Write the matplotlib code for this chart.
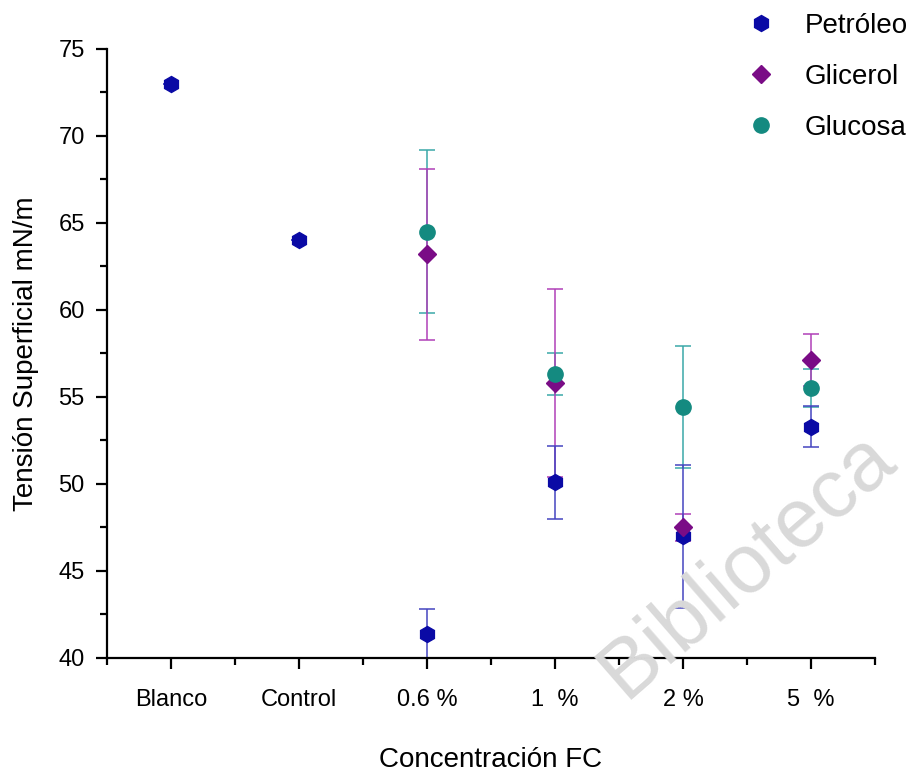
import numpy as np
import matplotlib
matplotlib.use("Agg")
from matplotlib import pyplot as plt
from matplotlib.ticker import MultipleLocator

plt.rcParams['font.family'] = ['Liberation Sans', 'DejaVu Sans']

# data
categorias = ['Blanco', 'Control', '0.6 %', '1  %', '2 %', '5  %']

petroleo_x = [0, 1, 2, 3, 4, 5]
petroleo_y = [73.0, 64.0, 41.4, 50.1, 47.0, 53.3]
petroleo_err = [0, 0, 1.4, 2.1, 4.1, 1.2]

glicerol_x = [2, 3, 4, 5]
glicerol_y = [63.2, 55.8, 47.5, 57.1]
glicerol_err = [4.9, 5.4, 0.8, 1.5]

glucosa_x = [2, 3, 4, 5]
glucosa_y = [64.5, 56.3, 54.4, 55.5]
glucosa_err = [4.7, 1.2, 3.5, 1.1]

fig = plt.figure(figsize=(9.2, 7.71), dpi=100)
ax = fig.add_axes([0.1163, 0.1466, 0.8347, 0.79])

# watermark (behind everything)
fig.text(0.635, 0.075, 'Biblioteca', fontsize=60, color='#d9d9d9', rotation=41,
         ha='left', va='bottom', zorder=0)

# error bars first (lighter), then markers
ax.errorbar(glucosa_x, glucosa_y, yerr=glucosa_err, fmt='none', ecolor='#3aa8a8',
            elinewidth=1.1, capsize=6, capthick=1.1, zorder=2)
ax.errorbar(glicerol_x, glicerol_y, yerr=glicerol_err, fmt='none', ecolor='#b040b8',
            elinewidth=1.1, capsize=6, capthick=1.1, zorder=2)
ax.errorbar(petroleo_x, petroleo_y, yerr=petroleo_err, fmt='none', ecolor='#4545c0',
            elinewidth=1.1, capsize=6, capthick=1.1, zorder=2)

ax.plot(petroleo_x, petroleo_y, 'h', color='#0a0aa5', ms=11.5, ls='none', label='Petróleo', zorder=3)
ax.plot(glicerol_x, glicerol_y, 'D', color='#7a0c86', ms=9, ls='none', label='Glicerol', zorder=4)
ax.plot(glucosa_x, glucosa_y, 'o', color='#148a80', ms=11, ls='none', label='Glucosa', zorder=5)

ax.patch.set_alpha(0)
ax.set_xlim(-0.5, 5.5)
ax.set_ylim(40, 75)
ax.set_xticks(range(len(categorias)))
ax.set_xticklabels(categorias)
ax.xaxis.set_minor_locator(MultipleLocator(0.5))
ax.yaxis.set_major_locator(MultipleLocator(5))
ax.yaxis.set_minor_locator(MultipleLocator(2.5))

ax.spines['top'].set_visible(False)
ax.spines['right'].set_visible(False)
ax.spines['left'].set_linewidth(1.6)
ax.spines['bottom'].set_linewidth(1.6)
ax.tick_params(axis='both', which='major', length=8, width=1.6, labelsize=17, pad=14)
ax.tick_params(axis='both', which='minor', length=5, width=1.6)
ax.tick_params(axis='y', which='major', pad=8)

ax.set_xlabel('Concentración FC', fontsize=20, labelpad=26)
ax.set_ylabel('Tensión Superficial mN/m', fontsize=20, labelpad=14)

leg = ax.legend(loc='upper right', bbox_to_anchor=(1.075, 1.1), frameon=False,
                fontsize=20, handletextpad=0.9, labelspacing=0.9, handlelength=1.3)

fig.savefig('out.png', dpi=100)
